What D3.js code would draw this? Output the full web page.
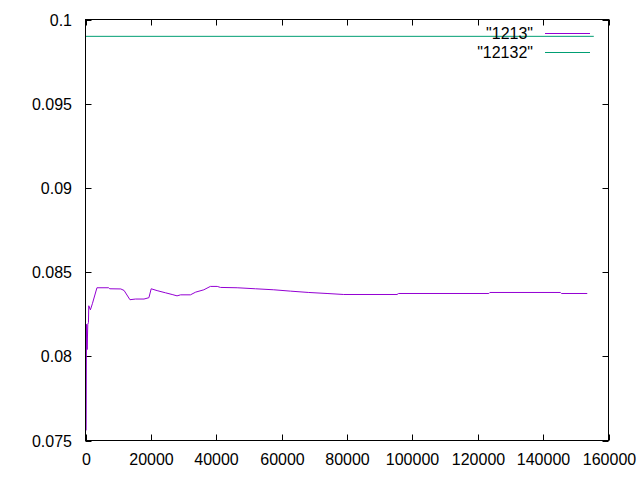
<!DOCTYPE html>
<html><head><meta charset="utf-8">
<script src="https://cdn.jsdelivr.net/npm/d3@7"></script>
<style>body{margin:0;background:#fff}svg{display:block}text{font-family:"Liberation Sans",Arial,sans-serif;font-size:16px;fill:#000}</style>
</head><body><svg id="c" width="640" height="480"></svg>
<script>
const xTicks=[0,20000,40000,60000,80000,100000,120000,140000,160000];
const yTicks=[0.075,0.08,0.085,0.09,0.095,0.1];
const yTickLabels=["0.075","0.08","0.085","0.09","0.095","0.1"];
const seriesNames=["\"1213\"","\"12132\""];
const s1213X=[200,300,500,700,900,1000,1500,2100,3500,7100,7400,10800,11800,13600,15300,17900,19400,20100,21900,24500,26500,28000,29100,32100,33700,36200,38200,40300,41300,46400,52000,57600,62700,68300,73900,79000,95300,95800,123400,123700,145300,145600,153500];
const s1213Y=[0.0756,0.0819,0.0804,0.0819,0.0820,0.0830,0.08276,0.08312,0.08407,0.08407,0.08401,0.0840,0.08391,0.08336,0.0834,0.0834,0.08348,0.08401,0.0839,0.08377,0.08367,0.08359,0.08365,0.08365,0.08381,0.08395,0.08415,0.08415,0.08409,0.08407,0.08401,0.08395,0.08387,0.08379,0.08373,0.08367,0.08367,0.08373,0.08373,0.08379,0.08379,0.08373,0.08373];
const s12132X=[0,155500];
const s12132Y=[0.0990,0.0990];
const colors=["#9400d3","#009e73"];

const L=85.5,R=608.5,T=19.5,B=440.5;
const svg=d3.select("#c");
const x=d3.scaleLinear().domain([0,160000]).range([L,R]);
const y=d3.scaleLinear().domain([0.075,0.1]).range([B,T]);
const tl=6;
// ticks
const g=svg.append("g");
xTicks.forEach(v=>{
  const px=Math.round(x(v))+0.5;
  g.append("line").attr("x1",px).attr("x2",px).attr("y1",B).attr("y2",B-tl).attr("stroke","#000");
  g.append("line").attr("x1",px).attr("x2",px).attr("y1",T).attr("y2",T+tl).attr("stroke","#000");
  g.append("text").attr("x",px).attr("y",465).attr("text-anchor","middle").text(d3.format("d")(v));
});
yTicks.forEach((v,i)=>{
  const py=Math.round(y(v))+0.5;
  g.append("line").attr("x1",L).attr("x2",L+tl).attr("y1",py).attr("y2",py).attr("stroke","#000");
  g.append("line").attr("x1",R).attr("x2",R-tl).attr("y1",py).attr("y2",py).attr("stroke","#000");
  g.append("text").attr("x",72).attr("y",py+5.5).attr("text-anchor","end").text(yTickLabels[i]);
});
const line=d3.line().x(d=>x(d[0])).y(d=>y(d[1]));
svg.append("path").datum(s12132X.map((v,i)=>[v,s12132Y[i]])).attr("d",line).attr("fill","none").attr("stroke",colors[1]).attr("stroke-width",1);
svg.append("path").datum(s1213X.map((v,i)=>[v,s1213Y[i]])).attr("d",line).attr("fill","none").attr("stroke",colors[0]).attr("stroke-width",1);
// border
svg.append("rect").attr("x",L).attr("y",T).attr("width",R-L).attr("height",B-T).attr("fill","none").attr("stroke","#000");
// legend
seriesNames.forEach((n,i)=>{
  const ly=33.5+i*19;
  svg.append("text").attr("x",533).attr("y",ly+5.5).attr("text-anchor","end").text(n);
  svg.append("line").attr("x1",545).attr("x2",590).attr("y1",ly).attr("y2",ly).attr("stroke",colors[i]);
});
</script></body></html>
